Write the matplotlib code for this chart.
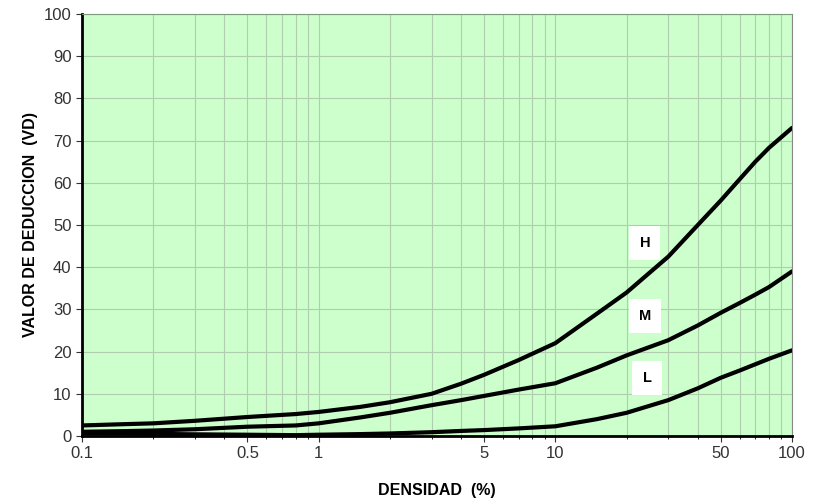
import matplotlib
matplotlib.use("Agg")
import matplotlib.pyplot as plt
from matplotlib.ticker import FixedLocator, NullFormatter

plt.rcParams['font.family'] = ['Liberation Sans', 'DejaVu Sans']

# densidad (%) and deduct values
densidad = [0.1, 0.15, 0.2, 0.3, 0.5, 0.8, 1, 1.5, 2, 3, 4, 5, 7, 10, 15, 20, 30, 40, 50, 60, 70, 80, 100]
vd_h = [2.5, 2.8, 3.0, 3.6, 4.5, 5.2, 5.7, 6.9, 8.0, 10.0, 12.4, 14.5, 18.0, 22.0, 29.0, 34.0, 42.5, 50.0, 55.8, 60.8, 65.0, 68.3, 73.0]
vd_m = [1.0, 1.15, 1.3, 1.6, 2.2, 2.5, 3.0, 4.4, 5.5, 7.3, 8.5, 9.5, 11.0, 12.5, 16.2, 19.1, 22.7, 26.2, 29.2, 31.5, 33.5, 35.3, 39.0]
vd_l = [0.6, 0.55, 0.5, 0.4, 0.3, 0.2, 0.3, 0.45, 0.6, 0.9, 1.2, 1.4, 1.8, 2.3, 4.0, 5.5, 8.5, 11.3, 13.8, 15.5, 17.0, 18.3, 20.3]

labels = ["H", "M", "L"]
label_x = [23.9, 23.9, 24.4]
label_y = [45.7, 28.4, 13.7]

xticks = [0.1, 0.5, 1, 5, 10, 50, 100]
xtick_labels = ["0.1", "0.5", "1", "5", "10", "50", "100"]

fig = plt.figure(figsize=(8.16, 5.03), dpi=100)
ax = fig.add_axes([0.1005, 0.1332, 0.8701, 0.839])
ax.set_facecolor("#ccffcc")

ax.set_xscale("log")
ax.set_xlim(0.1, 100)
ax.set_ylim(0, 100)

minor = [m * 10.0 ** e for e in (-1, 0, 1) for m in range(2, 10)]
ax.xaxis.set_major_locator(FixedLocator([0.1, 1, 10, 100]))
ax.xaxis.set_minor_locator(FixedLocator(minor))
ax.xaxis.set_minor_formatter(NullFormatter())
ax.grid(True, which="both", axis="x", color="#b0cdb0", lw=0.8)
ax.grid(True, which="major", axis="y", color="#b0cdb0", lw=0.8)
ax.set_axisbelow(True)

ax.set_xticks(xticks)
ax.set_xticklabels(xtick_labels)
ax.set_yticks(range(0, 101, 10))

for ys in (vd_h, vd_m, vd_l):
    ax.plot(densidad, ys, color="black", lw=3, solid_capstyle="round",
            solid_joinstyle="round", zorder=3)

for t, lx, ly in zip(labels, label_x, label_y):
    ax.text(lx, ly, t, ha="center", va="center", fontsize=10.5, fontweight="bold",
            bbox=dict(boxstyle="square,pad=0.7", fc="white", ec="none"), zorder=4)

ax.spines["left"].set_linewidth(2)
ax.spines["bottom"].set_linewidth(2)
ax.spines["top"].set_color("#7a9a7a")
ax.spines["right"].set_color("#888888")
ax.tick_params(axis="both", which="major", labelsize=12, colors="#333333", length=4,
               labelcolor="#333333")
ax.tick_params(axis="x", which="minor", length=2)
ax.tick_params(axis="x", pad=3)

ax.set_xlabel("DENSIDAD  (%)", fontsize=11.5, fontweight="bold", labelpad=16)
ax.set_ylabel("VALOR DE DEDUCCION  (VD)", fontsize=11.5, fontweight="bold", labelpad=4)

fig.savefig("out.png", dpi=100)
